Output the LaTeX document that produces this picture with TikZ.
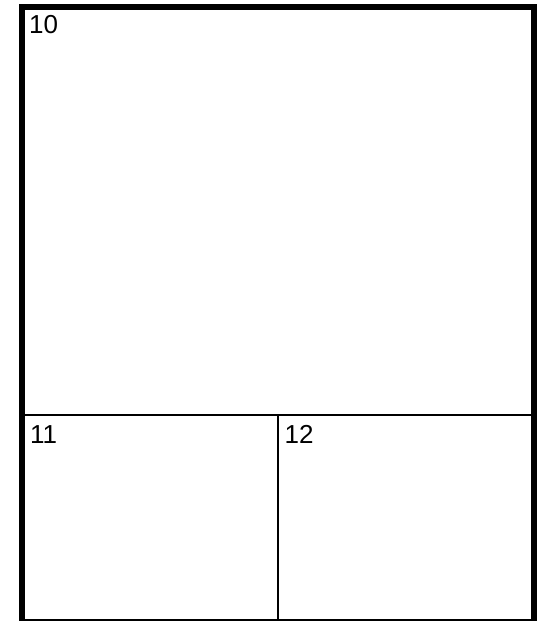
\documentclass[tikz,border=0pt]{standalone}
\usepackage{fontspec}
\setmainfont{Liberation Sans}
\begin{document}
\begin{tikzpicture}[x=1pt,y=-1pt,
  frame/.style={line width=6pt},
  divider/.style={line width=1.3pt},
  lbl/.style={anchor=base west,inner sep=0pt,font=\fontsize{26}{30}\selectfont}]
\useasboundingbox (0,0) rectangle (543,621);
\coordinate (tl) at (22,7);
\coordinate (br) at (533.5,622);
\coordinate (ml) at (22,415);
\coordinate (mr) at (533.5,415);
\coordinate (vt) at (278,415);
\coordinate (vb) at (278,622);
\draw[divider] (ml) -- (mr);
\draw[divider] (vt) -- (vb);
\draw[frame] (tl) rectangle (br);
\node[lbl] (t10) at (29,33) {10};
\node[lbl] (t11) at (30,443) {11};
\node[lbl] (t12) at (284.5,443) {12};
\end{tikzpicture}
\end{document}
